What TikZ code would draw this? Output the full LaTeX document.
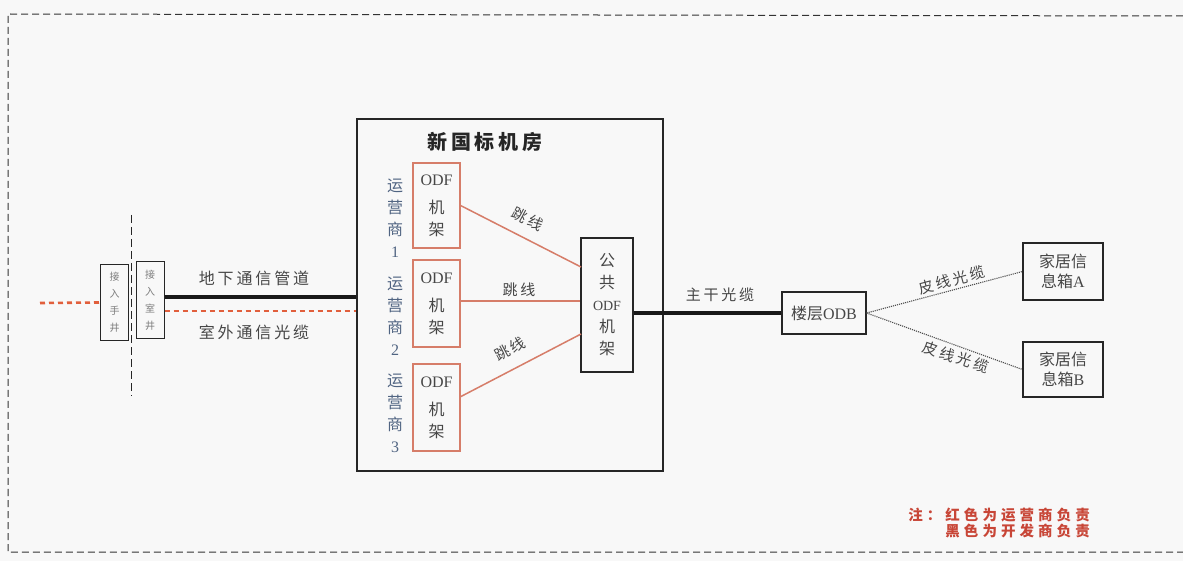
\documentclass[tikz,border=0pt]{standalone}
\usepackage{fontspec}
\setmainfont{Liberation Serif}
\newfontfamily\cjk{Noto Sans CJK SC}
\newfontfamily\cjks{Noto Sans CJK SC}[LetterSpace=18]
\newfontfamily\cjkn{Noto Sans CJK SC}[LetterSpace=28]
\definecolor{opred}{RGB}{214,125,105}
\definecolor{dotred}{RGB}{225,95,60}
\definecolor{txtgray}{RGB}{70,70,70}
\definecolor{lightgray}{RGB}{125,125,125}
\definecolor{opblue}{RGB}{80,100,130}
\definecolor{notered}{RGB}{200,70,55}
\definecolor{paper}{RGB}{248,248,248}
\tikzset{
  frame/.style={line width=1pt, black!80, dash pattern=on 7pt off 4pt},
  blackbox/.style={draw=black!85, line width=1.1pt, inner sep=0pt, align=center, text=txtgray},
  odfbox/.style={draw=opred, line width=1.1pt, inner sep=0pt, align=center, text=txtgray,
     minimum width=47pt, font=\fontsize{16}{22}\selectfont},
  wellbox/.style={draw=black!85, line width=1pt, inner sep=0pt, align=center, text=lightgray,
     minimum width=28pt, font=\cjk\fontsize{10}{17}\selectfont},
  lbl/.style={text=txtgray, inner sep=0pt, font=\cjks\fontsize{16}{16}\selectfont},
  oplbl/.style={text=opblue, inner sep=0pt, align=center, font=\fontsize{16}{22}\selectfont},
  jump/.style={opred, line width=1.5pt},
  trunk/.style={black!90, line width=3.5pt},
  redcable/.style={dotred, line width=2.6pt, dash pattern=on 5pt off 4pt},
  drop/.style={black!70, line width=1.1pt, densely dotted},
}
\begin{document}
\begin{tikzpicture}[x=1pt,y=-1pt]
\useasboundingbox[fill=paper] (0,0) rectangle (1183,561);
% outer dashed frame
\draw[frame] (1183,16) -- (8,14) -- (8,552) -- (1183,552);
% boundary line
\coordinate (btop) at (131,215);
\coordinate (bbot) at (131,396);
\draw[line width=1pt, black!85, dash pattern=on 8pt off 4pt] (btop) -- (bbot);

% access wells
\node[wellbox, minimum height=75pt] (hand) at (114.5,302.5) {接\\入\\手\\井};
\node[wellbox, minimum height=76pt] (room) at (150,300) {接\\入\\室\\井};

% machine room
\node[draw=black!85, line width=1.3pt, minimum width=306pt, minimum height=352pt, inner sep=0pt] (big) at (510,295) {};
\node[inner sep=0pt, text=black!85, font=\cjks\bfseries\fontsize{20}{20}\selectfont] (title) at (485,142) {新国标机房};

\node[odfbox, minimum height=85pt] (odf1) at (436.5,205.5) {ODF\\[6pt]{\cjk 机}\\{\cjk 架}};
\node[odfbox, minimum height=87pt] (odf2) at (436.5,303.5) {ODF\\[6pt]{\cjk 机}\\{\cjk 架}};
\node[odfbox, minimum height=87pt] (odf3) at (436.5,407.5) {ODF\\[6pt]{\cjk 机}\\{\cjk 架}};

\node[oplbl] (op1) at (395,218) {{\cjk 运}\\{\cjk 营}\\{\cjk 商}\\1};
\node[oplbl] (op2) at (395,316) {{\cjk 运}\\{\cjk 营}\\{\cjk 商}\\2};
\node[oplbl] (op3) at (395,413) {{\cjk 运}\\{\cjk 营}\\{\cjk 商}\\3};

\node[blackbox, minimum width=52pt, minimum height=134pt, font=\fontsize{16}{22}\selectfont] (pub) at (607,305)
  {{\cjk 公}\\{\cjk 共}\\{\fontsize{14}{22}\selectfont ODF}\\{\cjk 机}\\{\cjk 架}};

% jumpers
\coordinate (pin1) at (581,267);
\coordinate (pin3) at (581,334);
\coordinate (o3out) at (460,397);
\draw[jump] (odf1.east) -- (pin1);
\draw[jump] (odf2.east |- 0,301) -- (pub.west |- 0,301);
\draw[jump] (o3out) -- (pin3);
\node[lbl, font=\cjks\fontsize{15}{15}\selectfont, rotate=-28] (j1) at (528,219) {跳线};
\node[lbl, font=\cjks\fontsize{15}{15}\selectfont] (j2) at (519,290) {跳线};
\node[lbl, font=\cjks\fontsize{15}{15}\selectfont, rotate=28] (j3) at (510,349) {跳线};

% outside cables
\coordinate (lstart) at (40,303);
\draw[redcable] (lstart) -- (hand.west);
\draw[trunk] (room.east |- 0,297) -- (big.west |- 0,297);
\draw[redcable] (room.east |- 0,311) -- (big.west |- 0,311);
\node[lbl] (l1) at (254,278) {地下通信管道};
\node[lbl] (l2) at (254,332) {室外通信光缆};

% floor ODB
\node[blackbox, minimum width=84pt, minimum height=42pt, font=\fontsize{16}{16}\selectfont] (odb) at (824,313) {{\cjk 楼层}ODB};
\draw[trunk] (pub.east |- odb.west) -- (odb.west);
\node[lbl, font=\cjks\fontsize{15}{15}\selectfont] (l3) at (720,295) {主干光缆};

% home boxes
\node[blackbox, minimum width=80pt, minimum height=57pt, font=\fontsize{16}{20}\selectfont] (boxA) at (1063,271.5) {{\cjk 家居信}\\{\cjk 息箱}A};
\node[blackbox, minimum width=80pt, minimum height=55pt, font=\fontsize{16}{20}\selectfont] (boxB) at (1063,369.5) {{\cjk 家居信}\\{\cjk 息箱}B};
\draw[drop] (odb.east) -- (boxA.west);
\draw[drop] (odb.east) -- (boxB.west);
\node[lbl, font=\cjks\fontsize{15}{15}\selectfont, rotate=15] (pA) at (952,280) {皮线光缆};
\node[lbl, font=\cjks\fontsize{15}{15}\selectfont, rotate=-19] (pB) at (956,357) {皮线光缆};

% note
\node[inner sep=0pt, anchor=north east, align=right, text=notered, font=\cjkn\bfseries\fontsize{14.5}{16}\selectfont] (note) at (1090,508)
  {注：红色为运营商负责\\黑色为开发商负责};
\end{tikzpicture}
\end{document}
